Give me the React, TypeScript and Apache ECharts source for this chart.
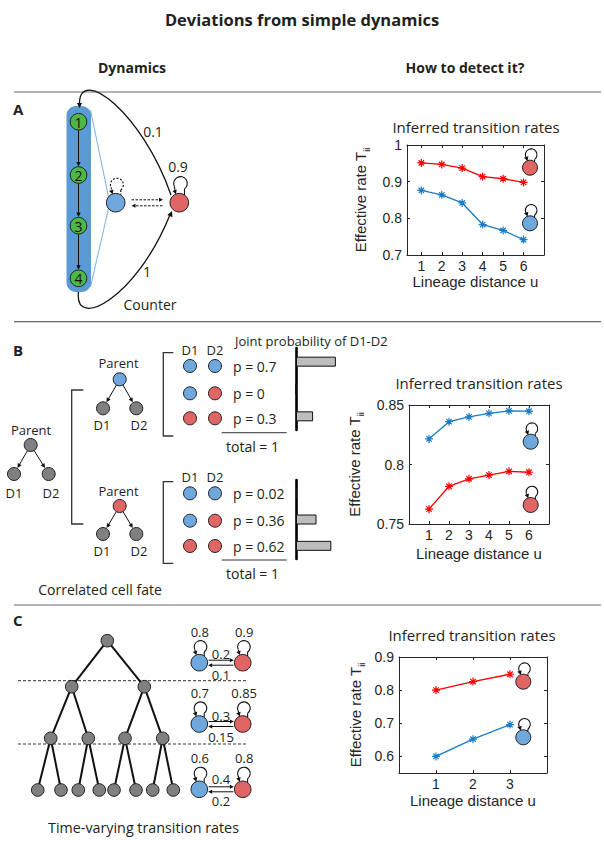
import React, { useEffect, useRef } from "react";
import * as echarts from "echarts";

// ---------- data ----------
const lineageA = [1, 2, 3, 4, 5, 6];
const redA = [0.951, 0.947, 0.937, 0.914, 0.908, 0.898];
const blueA = [0.876, 0.864, 0.842, 0.783, 0.767, 0.742];

const lineageB = [1, 2, 3, 4, 5, 6];
const blueB = [0.8215, 0.836, 0.84, 0.843, 0.845, 0.8448];
const redB = [0.7625, 0.7817, 0.788, 0.7911, 0.7943, 0.7935];

const lineageC = [1, 2, 3];
const redC = [0.8, 0.826, 0.848];
const blueC = [0.6, 0.652, 0.696];

const xTicksA = [1, 2, 3, 4, 5, 6];
const yTicksA = [0.7, 0.8, 0.9, 1];
const xTicksB = [1, 2, 3, 4, 5, 6];
const yTicksB = [0.75, 0.8, 0.85];
const xTicksC = [1, 2, 3];
const yTicksC = [0.6, 0.7, 0.8, 0.9];

const jointCats = ["blue-blue", "blue-red", "red-red"];
const jointBlueParent = [0.7, 0, 0.3];
const jointRedParent = [0.02, 0.36, 0.62];
const jointLabelsBlue = ["p = 0.7", "p = 0", "p = 0.3"];
const jointLabelsRed = ["p = 0.02", "p = 0.36", "p = 0.62"];

const ratesC = [
  { blueSelf: "0.8", redSelf: "0.9", br: "0.2", rb: "0.1" },
  { blueSelf: "0.7", redSelf: "0.85", br: "0.3", rb: "0.15" },
  { blueSelf: "0.6", redSelf: "0.8", br: "0.4", rb: "0.2" },
];

// ---------- styles ----------
const FONT = "'Open Sans', 'Noto Sans', sans-serif";
const AXFONT = "'Liberation Sans', Arial, sans-serif";
const INK = "#231f20";
const RED_LINE = "#ff0000";
const BLUE_LINE = "#1b7cc6";
const RED_NODE = "#e06666";
const BLUE_NODE = "#6fa8dc";
const GREEN_NODE = "#4cb848";
const GRAY_NODE = "#808080";
const BAR_BLUE = "#5b9bd5";
const ASTERISK = "path://M5 0L5 10M0 5L10 5M1.6 1.6L8.4 8.4M8.4 1.6L1.6 8.4";

// ---------- graphic helpers ----------
function txt(x: number, y: number, text: string, size = 13, extra: any = {}) {
  const align = extra.align || "center";
  return {
    type: "text",
    x,
    y,
    style: {
      text,
      fontSize: size,
      fontFamily: FONT,
      fill: INK,
      align,
      textAlign: align,
      verticalAlign: "middle",
      textVerticalAlign: "middle",
      ...extra,
    },
  };
}
function circ(cx: number, cy: number, r: number, fill: string, lw = 1) {
  return { type: "circle", shape: { cx, cy, r }, style: { fill, stroke: INK, lineWidth: lw } };
}
function ln(x1: number, y1: number, x2: number, y2: number, extra: any = {}) {
  return { type: "line", shape: { x1, y1, x2, y2 }, style: { stroke: "#111", lineWidth: 1, ...extra } };
}
function head(x: number, y: number, dx: number, dy: number, len = 4.5, w = 2.2, fill = "#111") {
  const d = Math.hypot(dx, dy) || 1;
  const ux = dx / d, uy = dy / d;
  const px = -uy, py = ux;
  return {
    type: "polygon",
    shape: {
      points: [
        [x, y],
        [x - ux * len + px * w, y - uy * len + py * w],
        [x - ux * len - px * w, y - uy * len - py * w],
      ],
    },
    style: { fill, stroke: "none" },
  };
}
function arrow(x1: number, y1: number, x2: number, y2: number, extra: any = {}, len = 4.5, w = 2.2) {
  const d = Math.hypot(x2 - x1, y2 - y1);
  const ux = (x2 - x1) / d, uy = (y2 - y1) / d;
  return [ln(x1, y1, x2 - ux * len * 0.7, y2 - uy * len * 0.7, extra), head(x2, y2, ux, uy, len, w)];
}
function edge(ax: number, ay: number, bx: number, by: number, r1: number, r2: number, extra: any = {}) {
  const d = Math.hypot(bx - ax, by - ay);
  const ux = (bx - ax) / d, uy = (by - ay) / d;
  return arrow(ax + ux * r1, ay + uy * r1, bx - ux * r2, by - uy * r2, extra);
}
// self-loop drawn above a node: opening at the bottom, arrow into the node's top-left
function loop(cx: number, cy: number, nodeR: number, dashed = false, lr = 5.8, gap = 0) {
  const c = { x: cx + 1.2, y: cy - nodeR - lr - gap + 0.8 };
  const ts = 0.3 * Math.PI, te = 0.86 * Math.PI;
  const S = { x: c.x + lr * Math.cos(ts), y: c.y + lr * Math.sin(ts) };
  const E = { x: c.x + lr * Math.cos(te), y: c.y + lr * Math.sin(te) };
  const dash = dashed ? [2, 1.6] : null;
  const els: any[] = [
    {
      type: "arc",
      shape: { cx: c.x, cy: c.y, r: lr, startAngle: ts, endAngle: te, clockwise: false },
      style: { stroke: "#111", lineWidth: 1.1, fill: "none", lineDash: dash },
    },
  ];
  const nodeTopAt = (x: number) => cy - Math.sqrt(Math.max(0, nodeR * nodeR - (x - cx) * (x - cx)));
  const sy = nodeTopAt(S.x);
  if (sy - S.y > 0.5) els.push(ln(S.x, S.y, S.x, sy, { lineDash: dash, lineWidth: 1.1 }));
  const tipX = E.x + 1.6;
  const ty = nodeTopAt(tipX) + 0.2;
  const len = 4.2;
  if (ty - E.y > len) els.push(ln(E.x, E.y, tipX - 0.8, ty - len * 0.7, { lineDash: dash, lineWidth: 1.1 }));
  els.push(head(tipX, Math.max(ty, E.y + len * 0.9), 0.35, 1, len, 2.3));
  return els;
}
function nodeWithLoop(cx: number, cy: number, fill: string, r = 7.5) {
  return [circ(cx, cy, r, fill), ...loop(cx, cy, r, false, 5.8, 0.5)];
}

// ---------- panels ----------
function panelA() {
  const els: any[] = [];
  els.push({ type: "rect", shape: { x: 66.5, y: 106, width: 24.5, height: 186, r: 9 }, style: { fill: BAR_BLUE } });
  els.push(ln(90.5, 110, 108.5, 197, { stroke: BAR_BLUE, lineWidth: 0.8 }));
  els.push(ln(90.5, 287, 108.5, 208.5, { stroke: BAR_BLUE, lineWidth: 0.8 }));
  const gy = [121.7, 175, 225.7, 278.3];
  for (let i = 0; i < 3; i++) els.push(...arrow(78.5, gy[i] + 8.6, 78.5, gy[i + 1] - 8.6));
  gy.forEach((y, i) => {
    els.push(circ(78.5, y, 8.3, GREEN_NODE));
    els.push(txt(78.5, y + 0.5, String(i + 1), 14, { fill: "#111" }));
  });
  // 0.1 : red -> top of counter
  els.push({
    type: "bezierCurve",
    shape: { x1: 171, y1: 195, cpx1: 142, cpy1: 112, cpx2: 80, cpy2: 66, x2: 79.5, y2: 103 },
    style: { stroke: "#111", lineWidth: 1.3, fill: "none" },
  });
  els.push(head(79.5, 108, 0, 1, 5, 2.6));
  // 1 : counter -> red
  els.push({
    type: "bezierCurve",
    shape: { x1: 78.5, y1: 292, cpx1: 74, cpy1: 330, cpx2: 135, cpy2: 300, x2: 169.5, y2: 216 },
    style: { stroke: "#111", lineWidth: 1.3, fill: "none" },
  });
  els.push(head(172, 211, 37, -88, 5.5, 2.8));
  els.push(ln(131.5, 199.8, 159, 199.8, { lineDash: [2.5, 1.5] }));
  els.push(head(163, 199.8, 1, 0, 4, 2));
  els.push(ln(136, 205.8, 163, 205.8, { lineDash: [2.5, 1.5] }));
  els.push(head(131.5, 205.8, -1, 0, 4, 2));
  els.push(circ(115.7, 202.7, 9.3, BLUE_NODE));
  els.push(circ(179.3, 202.7, 9.3, RED_NODE));
  els.push(...loop(115.7, 202.7, 9.3, true, 6.5, 3));
  els.push(...loop(179.3, 202.7, 9.3, false, 6.8, 4));
  els.push(txt(178, 166.5, "0.9", 14));
  els.push(txt(153, 131, "0.1", 14));
  els.push(txt(147, 271, "1", 14));
  els.push(txt(150, 304.5, "Counter", 14));
  return els;
}

function tree(px: number, py: number, kx1: number, kx2: number, ky: number, fill: string, r = 6.5) {
  return [
    ...edge(px, py, kx1, ky, r, r + 0.5),
    ...edge(px, py, kx2, ky, r, r + 0.5),
    circ(px, py, r, fill),
    circ(kx1, ky, r, GRAY_NODE),
    circ(kx2, ky, r, GRAY_NODE),
  ];
}
function bracket(x: number, y1: number, y2: number, w: number) {
  return {
    type: "polyline",
    shape: { points: [[x + w, y1], [x, y1], [x, y2], [x + w, y2]] },
    style: { stroke: "#333", lineWidth: 1.3, fill: "none" },
  };
}

function panelB() {
  const els: any[] = [];
  els.push(txt(13, 350, "B", 15, { fontWeight: "bold", align: "left", textAlign: "left" }));
  els.push(txt(31, 429.5, "Parent", 13));
  els.push(...tree(30.7, 445, 14, 48.7, 474, GRAY_NODE));
  els.push(txt(14, 492.5, "D1", 13));
  els.push(txt(51, 492.5, "D2", 13));
  els.push(bracket(71.7, 390, 524, 11.6));
  els.push(txt(118.5, 363, "Parent", 13));
  els.push(...tree(119.7, 379.3, 103, 136.3, 408.3, BLUE_NODE));
  els.push(txt(102, 425, "D1", 13));
  els.push(txt(139, 425, "D2", 13));
  els.push(txt(118.5, 491, "Parent", 13));
  els.push(...tree(119.7, 506, 103, 136.3, 534, RED_NODE));
  els.push(txt(102, 551, "D1", 13));
  els.push(txt(139, 551, "D2", 13));

  const rowsU = [366, 393.3, 418.3];
  const rowsL = [493.3, 520.7, 546];
  const pairs = [
    [BLUE_NODE, BLUE_NODE],
    [BLUE_NODE, RED_NODE],
    [RED_NODE, RED_NODE],
  ];
  const block = (rows: number[], labels: string[], hy: number, by1: number, by2: number, ly: number) => {
    els.push(bracket(163.3, by1, by2, 10));
    els.push(txt(190, hy, "D1", 13));
    els.push(txt(215, hy, "D2", 13));
    rows.forEach((y, i) => {
      els.push(circ(190, y, 6.5, pairs[i][0]));
      els.push(circ(215, y, 6.5, pairs[i][1]));
      els.push(txt(233, y, labels[i], 14, { align: "left", textAlign: "left" }));
    });
    els.push(ln(221.7, ly, 286.7, ly, { stroke: "#333" }));
    els.push(txt(252.5, ly + 13.5, "total = 1", 14));
  };
  block(rowsU, jointLabelsBlue, 349.5, 352.7, 436, 432.7);
  block(rowsL, jointLabelsRed, 477, 481.7, 563.3, 560);
  els.push(txt(235, 341, "Joint probability of D1-D2", 13, { align: "left", textAlign: "left" }));
  els.push(txt(100, 589.5, "Correlated cell fate", 14));
  return els;
}

function panelC() {
  const els: any[] = [];
  els.push(txt(13, 620, "C", 15, { fontWeight: "bold", align: "left", textAlign: "left" }));
  els.push(ln(18, 680.7, 247, 680.7, { lineDash: [3, 2], stroke: "#333" }));
  els.push(ln(18, 744, 247, 744, { lineDash: [3, 2], stroke: "#333" }));
  const root = [107.3, 640.7];
  const l1 = [[71.7, 686.7], [144.3, 686.7]];
  const l2x = [50.7, 88.3, 125, 162.7];
  const leafX = [37.7, 61, 78.3, 99.3, 114, 136, 152.7, 173.3];
  const ly2 = 738.3, ly3 = 790;
  const E = { lineWidth: 2, stroke: "#111" };
  l1.forEach((p) => els.push(ln(root[0], root[1], p[0], p[1], E)));
  l2x.forEach((x, i) => els.push(ln(l1[Math.floor(i / 2)][0], l1[0][1], x, ly2, E)));
  leafX.forEach((x, i) => els.push(ln(l2x[Math.floor(i / 2)], ly2, x, ly3, E)));
  els.push(circ(root[0], root[1], 6.3, GRAY_NODE));
  l1.forEach((p) => els.push(circ(p[0], p[1], 6.3, GRAY_NODE)));
  l2x.forEach((x) => els.push(circ(x, ly2, 6.3, GRAY_NODE)));
  leafX.forEach((x) => els.push(circ(x, ly3, 6.3, GRAY_NODE)));

  const rowY = [662.7, 724, 789.3];
  const aboveOff = [-9, -8, -10];
  const belowOff = [12.3, 12.7, 11.4];
  rowY.forEach((y, i) => {
    const bx = 199.3, rx = 242.7, r = 8.3;
    els.push(ln(bx + r + 1, y - 2.5, rx - r - 3, y - 2.5));
    els.push(head(rx - r - 0.5, y - 2.5, 1, 0, 4, 2));
    els.push(ln(bx + r + 3, y + 2.5, rx - r - 1, y + 2.5));
    els.push(head(bx + r + 0.5, y + 2.5, -1, 0, 4, 2));
    els.push(circ(bx, y, r, BLUE_NODE));
    els.push(circ(rx, y, r, RED_NODE));
    els.push(...loop(bx, y, r, false, 6.3, 2));
    els.push(...loop(rx, y, r, false, 6.3, 2));
    els.push(txt(bx + 0.5, y - 31, ratesC[i].blueSelf, 13));
    els.push(txt(rx + 1.5, y - 31, ratesC[i].redSelf, 13));
    els.push(txt(221, y + aboveOff[i], ratesC[i].br, 13));
    els.push(txt(221, y + belowOff[i], ratesC[i].rb, 13));
  });
  els.push(txt(143.5, 827.5, "Time-varying transition rates", 14.3));
  return els;
}

function headers() {
  const els: any[] = [];
  els.push(txt(302, 19, "Deviations from simple dynamics", 16.5, { fontWeight: "bold" }));
  els.push(txt(132, 67, "Dynamics", 14, { fontWeight: "bold" }));
  els.push(txt(465, 67, "How to detect it?", 14, { fontWeight: "bold" }));
  [92, 321.7, 605].forEach((y) => els.push(ln(14, y, 601, y, { stroke: "#6b6b6b", lineWidth: 1.2 })));
  els.push(txt(13, 109, "A", 15, { fontWeight: "bold", align: "left", textAlign: "left" }));
  els.push(txt(476, 127, "Inferred transition rates", 15));
  els.push(txt(479, 383, "Inferred transition rates", 15));
  els.push(txt(472, 635, "Inferred transition rates", 15));
  els.push(...nodeWithLoop(530, 167.7, RED_NODE));
  els.push(...nodeWithLoop(530, 223.3, BLUE_NODE));
  els.push(...nodeWithLoop(530.7, 441.7, BLUE_NODE));
  els.push(...nodeWithLoop(530.7, 505, RED_NODE));
  els.push(...nodeWithLoop(523.3, 681.7, RED_NODE));
  els.push(...nodeWithLoop(523.3, 737.3, BLUE_NODE));
  return els;
}

// ---------- axes ----------
const AX = "#262626";
function xPair(grid: number, min: number, max: number, ticks: number[], gap: number) {
  const base = {
    gridIndex: grid,
    type: "value",
    min,
    max,
    splitLine: { show: false },
    axisLine: { show: true, onZero: false, lineStyle: { color: AX, width: 1 } },
    axisTick: { show: true, inside: true, length: 3, customValues: ticks, lineStyle: { color: AX } },
  };
  return [
    {
      ...base,
      position: "bottom",
      axisLabel: { customValues: ticks, margin: 4, fontSize: 14, color: AX, fontFamily: AXFONT },
      name: "Lineage distance u",
      nameLocation: "middle",
      nameGap: gap,
      nameTextStyle: { fontSize: 15, color: AX, fontFamily: AXFONT },
    },
    { ...base, position: "top", axisLabel: { show: false } },
  ];
}
function yPair(grid: number, min: number, max: number, ticks: number[], gap: number) {
  const base = {
    gridIndex: grid,
    type: "value",
    min,
    max,
    splitLine: { show: false },
    axisLine: { show: true, onZero: false, lineStyle: { color: AX, width: 1 } },
    axisTick: { show: true, inside: true, length: 3, customValues: ticks, lineStyle: { color: AX } },
  };
  return [
    {
      ...base,
      position: "left",
      axisLabel: {
        customValues: ticks,
        margin: 5,
        fontSize: 14,
        color: AX,
        fontFamily: AXFONT,
        formatter: (v: number) => String(+v.toFixed(2)),
      },
      name: "Effective rate T{s|ii}",
      nameLocation: "middle",
      nameGap: gap,
      nameTextStyle: {
        fontSize: 15,
        color: AX,
        fontFamily: AXFONT,
        lineHeight: 18,
        rich: { s: { fontSize: 9, lineHeight: 21, verticalAlign: "bottom", color: AX, fontFamily: AXFONT } },
      },
    },
    { ...base, position: "right", axisLabel: { show: false } },
  ];
}
function barX(grid: number) {
  return { gridIndex: grid, type: "value", min: 0, max: 1, show: false };
}
function barY(grid: number) {
  return {
    gridIndex: grid,
    type: "category",
    data: jointCats,
    inverse: true,
    axisLine: { show: true, lineStyle: { color: "#000", width: 2.6 } },
    axisTick: { show: false },
    axisLabel: { show: false },
  };
}
function lineSeries(xi: number, xs: number[], ys: number[], color: string) {
  return {
    type: "line",
    xAxisIndex: xi,
    yAxisIndex: xi,
    data: xs.map((x, i) => [x, ys[i]]),
    lineStyle: { color, width: 1.3 },
    itemStyle: { color, borderColor: color, borderWidth: 1.2 },
    symbol: ASTERISK,
    symbolSize: 8,
    showSymbol: true,
  };
}
function barSeries(idx: number, vals: number[]) {
  return {
    type: "bar",
    xAxisIndex: idx,
    yAxisIndex: idx,
    data: vals,
    barWidth: 10,
    itemStyle: { color: "#bdbdbd", borderColor: "#111", borderWidth: 1 },
  };
}

function buildOption() {
  return {
    animation: false,
    backgroundColor: "#ffffff",
    grid: [
      { left: 407, top: 145, width: 137, height: 110 },
      { left: 409, top: 405, width: 140, height: 119 },
      { left: 399, top: 657, width: 148, height: 116 },
      { left: 296, top: 348, width: 57, height: 82 },
      { left: 296, top: 480, width: 57, height: 79 },
    ],
    xAxis: [
      ...xPair(0, 0.3, 7, xTicksA, 18),
      ...xPair(1, 0, 7, xTicksB, 22),
      ...xPair(2, 0, 4, xTicksC, 20),
      barX(3),
      barX(4),
    ],
    yAxis: [
      ...yPair(0, 0.7, 1, yTicksA, 36),
      ...yPair(1, 0.75, 0.85, yTicksB, 44),
      ...yPair(2, 0.55, 0.9, yTicksC, 33),
      barY(3),
      barY(4),
    ],
    series: [
      lineSeries(0, lineageA, redA, RED_LINE),
      lineSeries(0, lineageA, blueA, BLUE_LINE),
      lineSeries(2, lineageB, blueB, BLUE_LINE),
      lineSeries(2, lineageB, redB, RED_LINE),
      lineSeries(4, lineageC, redC, RED_LINE),
      lineSeries(4, lineageC, blueC, BLUE_LINE),
      barSeries(6, jointBlueParent),
      barSeries(7, jointRedParent),
    ],
    graphic: { elements: [...headers(), ...panelA(), ...panelB(), ...panelC()] },
  };
}

export default function App() {
  const ref = useRef<HTMLDivElement>(null);
  useEffect(() => {
    document.body.style.margin = "0";
    const chart = echarts.init(ref.current!, null, { renderer: "svg" });
    chart.setOption(buildOption() as any);
    return () => chart.dispose();
  }, []);
  return <div ref={ref} style={{ width: 604, height: 844 }} />;
}
